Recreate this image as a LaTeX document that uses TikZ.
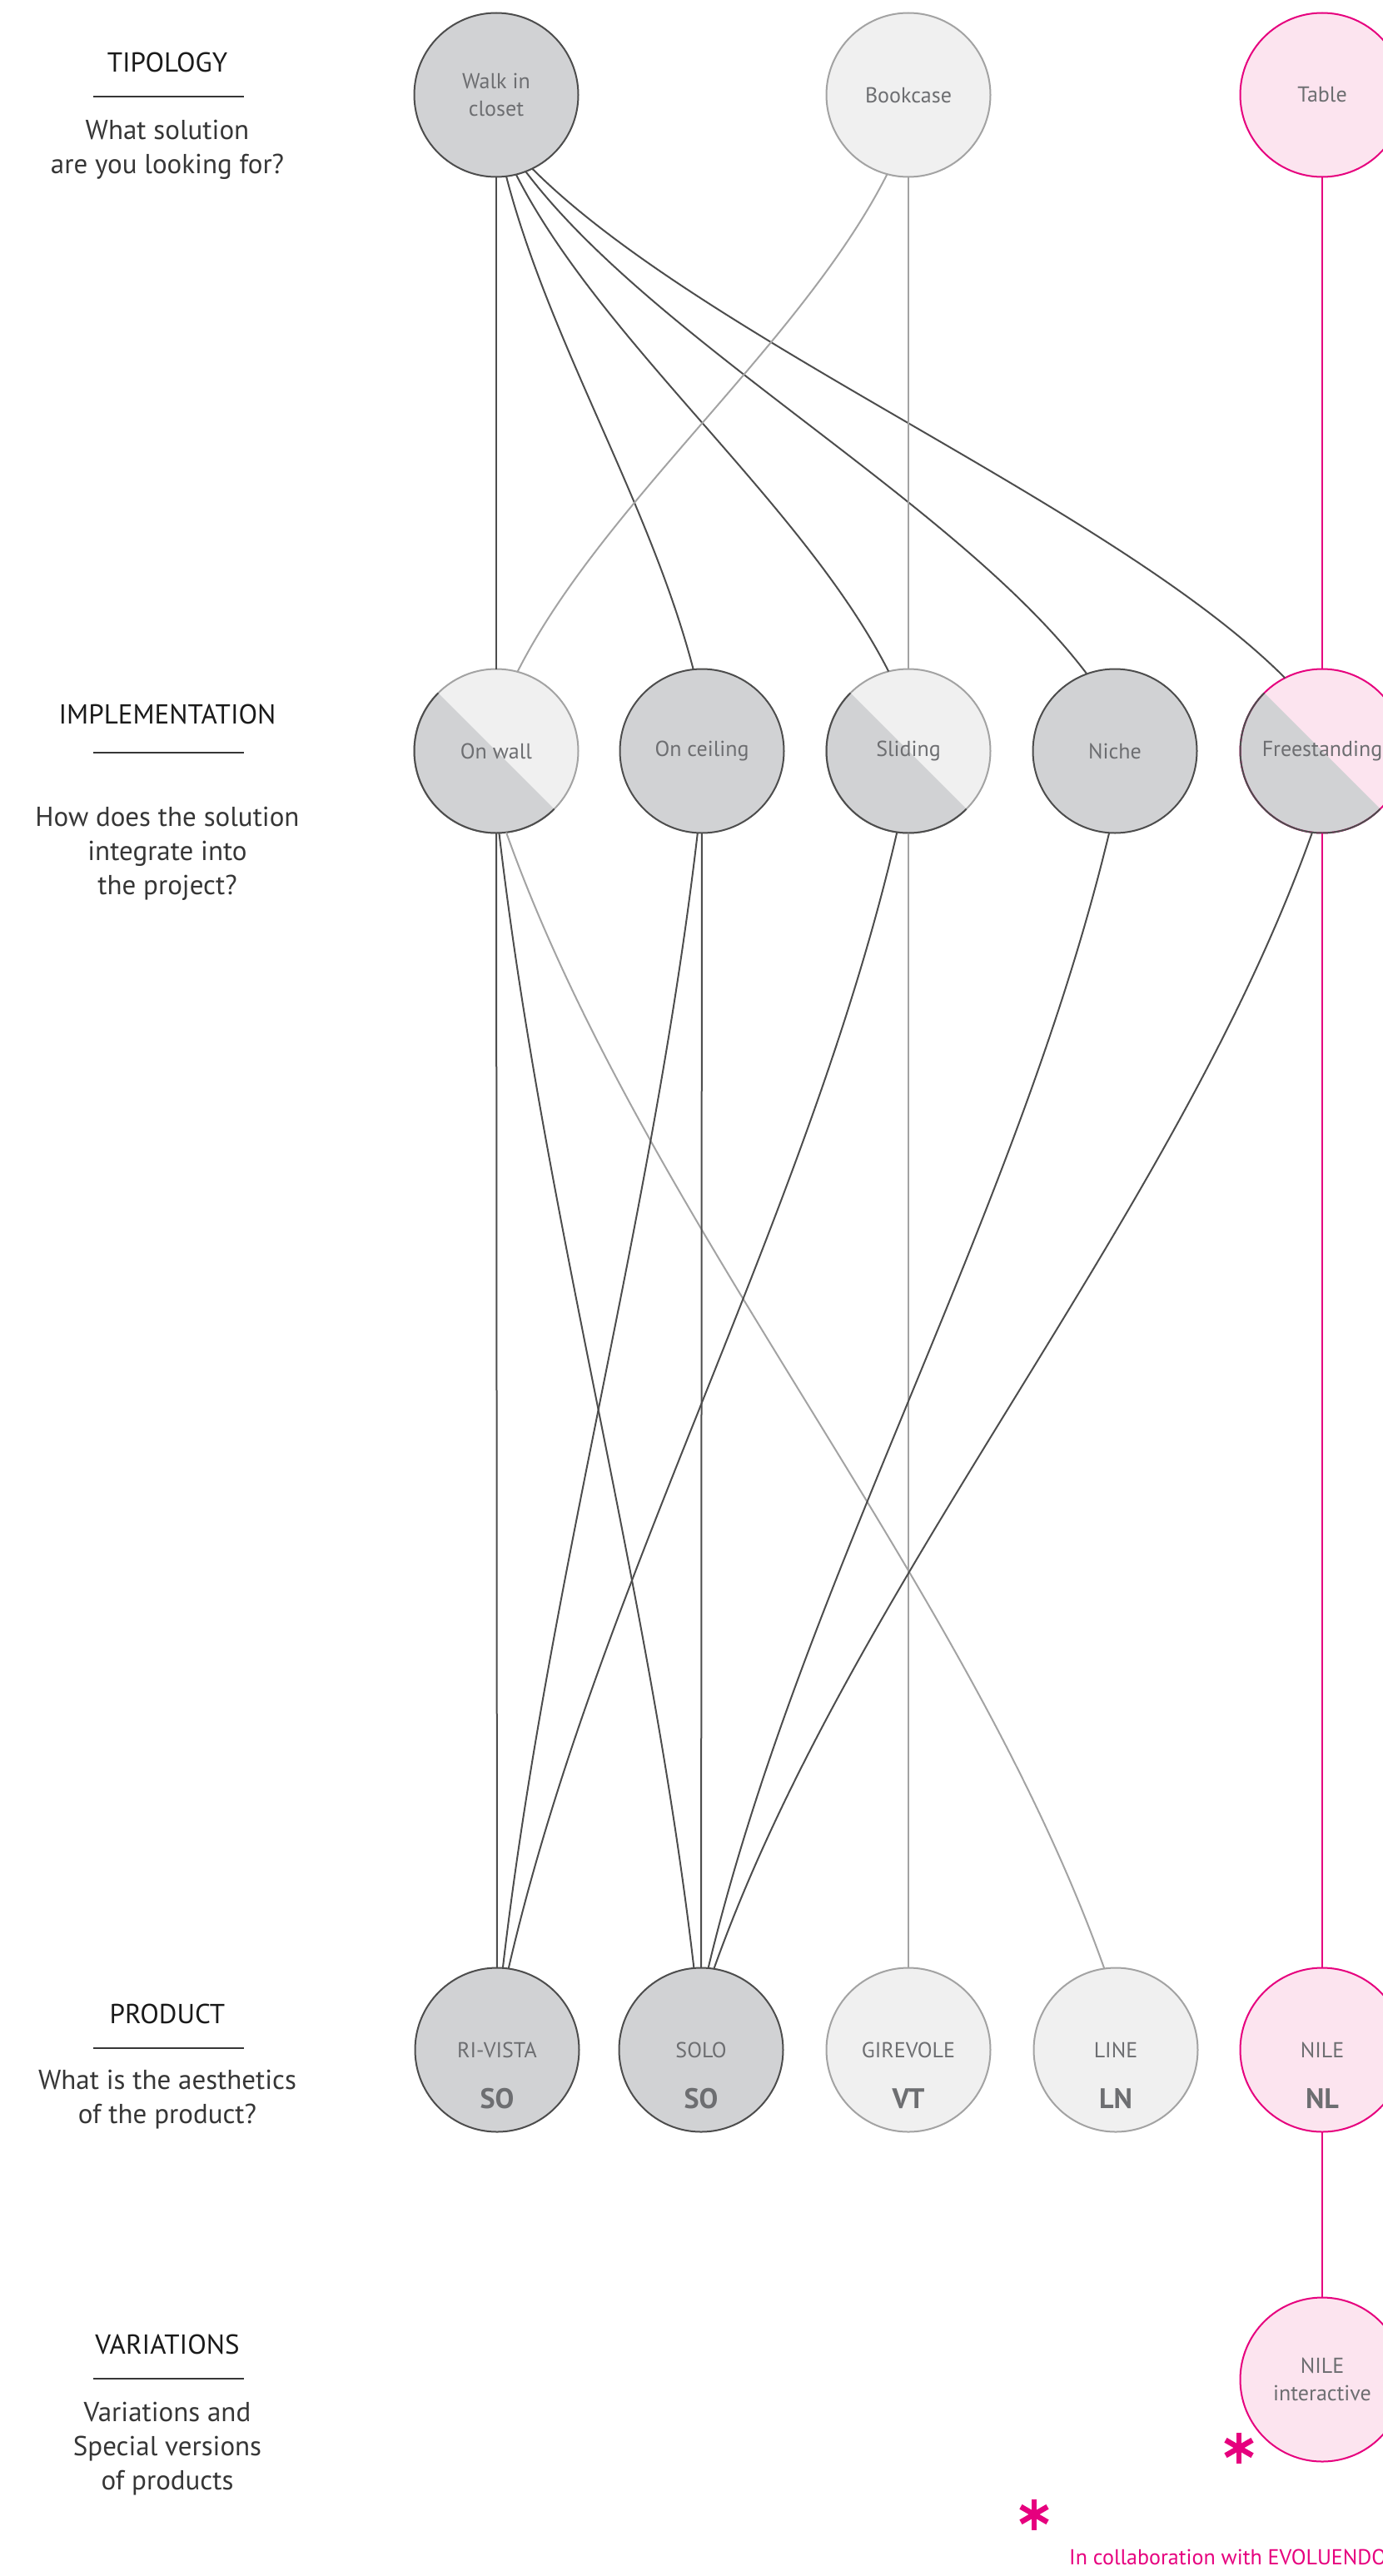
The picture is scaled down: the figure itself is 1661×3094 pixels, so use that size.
\documentclass[tikz,border=0pt]{standalone}
\usepackage{fontspec}
\setmainfont{PT Sans}
\usetikzlibrary{calc}
\definecolor{ink}{HTML}{1A1A1A}
\definecolor{txt}{HTML}{363636}
\definecolor{lbl}{HTML}{6D6E71}
\definecolor{darkfill}{HTML}{D1D2D4}
\definecolor{darkline}{HTML}{4D4D4D}
\definecolor{lightfill}{HTML}{F0F0F0}
\definecolor{lightline}{HTML}{A3A3A3}
\definecolor{mag}{HTML}{E6007E}
\definecolor{pinkfill}{HTML}{FCE4EF}
\tikzset{
  ball/.style    ={circle, minimum size=197pt, inner sep=0pt, outer sep=0pt,
                   line width=2pt, align=center, text=lbl,
                   font=\fontsize{26}{33}\selectfont},
  grayball/.style={ball, fill=darkfill, draw=darkline},
  paleball/.style={ball, fill=lightfill, draw=lightline},
  pinkball/.style={ball, fill=pinkfill, draw=mag},
  halfgray/.style={path picture={\fill[darkfill]
                   (path picture bounding box.south west) --
                   (path picture bounding box.north west) --
                   (path picture bounding box.south east) -- cycle;}},
  code/.style    ={font=\fontsize{34}{34}\selectfont\bfseries, text=lbl,
                   yshift=-59pt},
  head/.style    ={font=\fontsize{33}{41}\selectfont, text=ink, anchor=base},
  ask/.style     ={font=\fontsize{33}{41}\selectfont, text=txt, align=center,
                   anchor=north, inner sep=0pt},
  hrule/.style   ={draw=txt, line width=2pt},
  dline/.style   ={draw=darkline, line width=2pt},
  lline/.style   ={draw=lightline, line width=2pt},
  mline/.style   ={draw=mag, line width=2pt},
  star/.style    ={draw=mag, line width=6.5pt}
}

\begin{document}
\begin{tikzpicture}[x=1pt,y=1pt]
\useasboundingbox (0,0) rectangle (1661,-3094);
\clip (0,0) rectangle (1661,-3094);

%% left column: the questions
\node[head] (tipo) at (201,-86)   {TIPOLOGY};
\draw[hrule] (112,-116) -- (293,-116);
\node[ask]  (tipoq) at (201,-144) {What solution\\are you looking for?};

\node[head] (impl) at (201,-869)  {IMPLEMENTATION};
\draw[hrule] (112,-904) -- (293,-904);
\node[ask]  (implq) at (201,-969) {How does the solution\\integrate into\\the project?};

\node[head] (prod) at (201,-2430) {PRODUCT};
\draw[hrule] (112,-2460) -- (293,-2460);
\node[ask]  (prodq) at (201,-2486) {What is the aesthetics\\of the product?};

\node[head] (vari) at (201,-2827) {VARIATIONS};
\draw[hrule] (112,-2857) -- (293,-2857);
\node[ask]  (variq) at (201,-2885) {Variations and\\Special versions\\of products};

%% the circles
\node[grayball] (W)  at (596,-114)  {Walk in\\closet};
\node[paleball] (B)  at (1091,-114) {Bookcase};
\node[pinkball] (T)  at (1588,-114) {Table};

\node[paleball, halfgray] (OW) at (596,-902)  {On wall};
\node[grayball]           (OC) at (843,-902)  {On ceiling};
\node[paleball, halfgray] (SL) at (1091,-902) {Sliding};
\node[grayball]           (NI) at (1339,-902) {Niche};
\node[pinkball, halfgray] (FR) at (1588,-902) {Freestanding};
\foreach \n in {OW,SL,FR}
  \draw[dline] (\n.135) arc[start angle=135, end angle=315, radius=98.5pt];

\node[grayball, label={[code]center:SO}] (RV) at (597,-2462)  {RI-VISTA};
\node[grayball, label={[code]center:SO}] (SO) at (842,-2462)  {SOLO};
\node[paleball, label={[code]center:VT}] (GI) at (1091,-2462) {GIREVOLE};
\node[paleball, label={[code]center:LN}] (LN) at (1340,-2462) {LINE};
\node[pinkball, label={[code]center:NL}] (NL) at (1588,-2462) {NILE};

\node[pinkball] (NI2) at (1588,-2858) {NILE\\interactive};

%% tipology -> implementation
\draw[dline] (W) -- (OW);
\draw[dline] (W.-83) .. controls +(52,-200) and +(-52,200) .. (OC.96);
\draw[dline] (W.-76) .. controls +(102,-201) and +(-102,201) .. (SL.104);
\draw[dline] (W.-69) .. controls +(155,-205) and +(-155,205) .. (NI.110);
\draw[dline] (W.-64) .. controls +(207,-207) and +(-207,207) .. (FR.117);
\draw[lline] (B.-105) .. controls +(-102,-202) and +(102,202) .. (OW.75);
\draw[lline] (B) -- (SL);
\draw[mline] (T) -- (FR);

%% implementation -> product
\draw[dline] (OW) -- (RV);
\draw[dline] (OW.-88) .. controls +(54,-464) and +(-54,464) .. (SO.95);
\draw[lline] (OW.-83) .. controls +(165,-464) and +(-165,464) .. (LN.98);
\draw[dline] (OC.-93) .. controls +(-54,-464) and +(54,464) .. (RV.86);
\draw[dline] (OC) -- (SO);
\draw[dline] (SL.-98) .. controls +(-107,-464) and +(107,464) .. (RV.82);
\draw[lline] (SL) -- (GI);
\draw[dline] (NI.-94) .. controls +(-111,-464) and +(111,464) .. (SO.85);
\draw[dline] (FR.-97) .. controls +(-165,-464) and +(165,464) .. (SO.81);
\draw[mline] (FR) -- (NL);
\draw[mline] (NL) -- (NI2);

%% footnote
\coordinate (ast1) at (1488,-2940);
\coordinate (ast2) at (1242,-3020);
\foreach \c in {ast1,ast2}
  \foreach \a in {90,30,150}
    \draw[star] (\c) ++(\a:18.5) -- ++(\a+180:37);
\node[anchor=base west, inner sep=0pt, text=mag,
      font=\fontsize{26}{30}\selectfont] (collab) at (1284,-3080)
      {In collaboration with EVOLUENDO};
\end{tikzpicture}
\end{document}
